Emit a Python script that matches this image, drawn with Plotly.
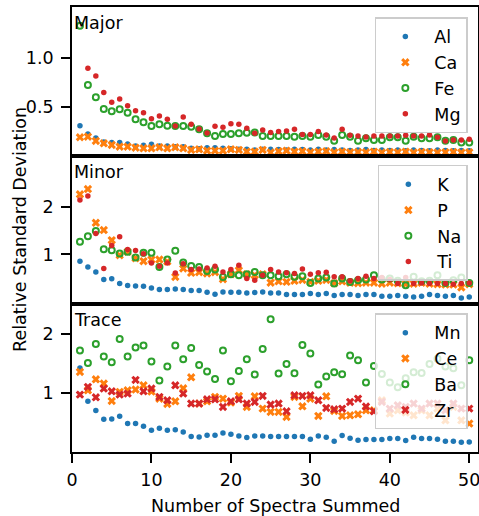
import plotly.graph_objects as go

n_spectra = list(range(1, 51))

# ---------------- Major ----------------
major_names = ["Al", "Ca", "Fe", "Mg"]
al = [0.304,0.219,0.178,0.137,0.130,0.130,0.116,0.096,0.102,0.113,0.096,0.096,0.088,0.088,0.071,0.068,0.078,0.078,0.071,0.068,
      0.061,0.061,0.054,0.061,0.061,0.058,0.054,0.061,0.058,0.054,0.061,0.054,0.058,0.054,0.050,0.054,0.058,0.050,0.054,0.050,
      0.054,0.047,0.054,0.050,0.047,0.054,0.050,0.047,0.050,0.047]
ca = [0.185,0.191,0.147,0.123,0.106,0.088,0.088,0.078,0.071,0.071,0.082,0.071,0.082,0.071,0.054,0.061,0.047,0.047,0.047,0.061,
      0.054,0.037,0.037,0.054,0.027,0.040,0.047,0.037,0.040,0.030,0.037,0.040,0.030,0.037,0.030,0.033,0.030,0.037,0.027,0.033,
      0.030,0.037,0.027,0.033,0.030,0.027,0.030,0.033,0.027,0.030]
fe = [1.330,0.722,0.596,0.476,0.452,0.472,0.438,0.370,0.339,0.301,0.318,0.304,0.301,0.301,0.294,0.267,0.226,0.198,0.219,0.219,
      0.226,0.230,0.233,0.198,0.198,0.198,0.198,0.191,0.198,0.191,0.209,0.191,0.150,0.209,0.191,0.150,0.174,0.157,0.157,0.184,
      0.184,0.150,0.191,0.174,0.174,0.184,0.150,0.157,0.130,0.130]
mg = [None,0.894,0.815,0.644,0.545,0.579,0.510,0.458,0.438,0.376,0.404,0.370,0.301,0.394,0.318,0.270,0.229,0.298,0.288,0.325,
      0.318,0.277,0.226,0.260,0.233,0.243,0.250,0.267,0.212,0.212,0.243,0.209,0.178,0.267,0.205,0.198,0.188,0.198,0.198,0.198,
      0.198,0.205,0.198,0.198,0.209,0.184,0.147,0.157,0.157,0.164]

# ---------------- Minor ----------------
minor_names = ["K", "P", "Na", "Ti"]
k = [0.857,0.736,0.630,0.468,0.482,0.383,0.340,0.333,0.326,0.290,0.255,0.255,0.269,0.255,0.234,0.234,0.198,0.156,0.205,0.198,
     0.198,0.184,0.191,0.205,0.183,0.183,0.148,0.148,0.148,0.169,0.148,0.169,0.127,0.148,0.148,0.127,0.148,0.148,0.113,0.113,
     0.127,0.113,0.099,0.113,0.148,0.127,0.113,0.127,0.077,0.099]
p = [2.276,2.389,1.672,1.517,1.304,0.985,1.055,0.920,0.857,0.893,0.893,0.850,0.523,0.702,0.610,0.624,0.596,0.624,0.475,0.580,
     0.665,0.580,0.560,0.580,0.400,0.430,0.418,0.440,0.460,0.418,0.440,0.460,0.390,0.430,0.400,0.390,0.400,0.400,0.380,0.400,
     0.390,0.370,0.380,0.400,0.380,0.370,0.360,0.360,0.300,0.370]
na = [1.268,1.389,1.496,1.113,1.090,1.020,1.055,0.936,1.035,1.035,0.736,0.893,1.077,0.830,0.757,0.736,0.651,0.680,0.523,0.580,
      0.559,0.580,0.630,0.559,0.560,0.539,0.582,0.525,0.539,0.396,0.489,0.510,0.383,0.489,0.418,0.454,0.468,0.560,0.468,0.489,
      0.440,0.347,0.525,0.432,0.440,0.560,0.396,0.454,0.510,0.396]
ti = [2.155,2.240,1.447,0.702,1.190,1.375,1.107,1.085,1.015,0.820,0.751,0.820,0.609,0.805,0.680,0.694,0.715,0.751,0.630,0.680,
      0.772,0.488,0.453,0.559,0.680,0.630,0.610,0.596,0.694,0.582,0.610,0.624,0.525,0.525,0.440,0.489,0.539,0.489,0.510,0.468,
      0.383,0.510,0.383,0.396,0.383,0.383,0.383,0.369,0.383,0.396]

# ---------------- Trace ----------------
trace_names = ["Mn", "Ce", "Ba", "Zr"]
mn = [1.424,0.859,0.701,0.555,0.560,0.605,0.481,0.481,0.435,0.368,0.402,0.368,0.375,0.339,0.261,0.255,0.283,0.283,0.322,0.300,
      0.272,0.244,0.272,0.272,0.261,0.261,0.261,0.261,0.261,0.215,0.272,0.250,0.181,0.278,0.232,0.198,0.210,0.210,0.210,0.227,
      0.227,0.193,0.250,0.227,0.227,0.215,0.181,0.181,0.164,0.170]
ce = [1.356,1.046,1.232,1.159,0.864,1.017,1.046,1.057,1.130,1.023,0.904,0.814,0.859,1.080,1.266,0.820,0.859,0.932,0.904,0.837,
      0.949,0.763,0.943,0.735,0.678,0.678,0.594,0.932,0.774,0.904,0.610,0.943,0.695,0.610,0.622,0.639,0.706,0.706,0.876,0.650,
      0.706,0.667,0.622,0.706,0.622,0.735,0.537,0.763,0.537,0.481]
ba = [1.718,1.509,1.830,1.616,1.520,1.915,1.616,1.770,1.803,1.532,1.210,1.447,1.803,1.571,1.760,1.475,1.362,1.237,1.720,1.198,
      1.373,1.571,1.311,1.746,2.249,1.328,1.492,1.334,1.814,1.667,1.142,1.277,1.351,1.317,1.633,1.554,1.176,1.458,1.322,1.176,
      1.097,1.250,1.350,1.340,1.490,1.580,1.450,1.420,1.130,1.554]
zr = [0.972,1.102,0.927,1.074,1.028,0.972,0.989,1.220,1.028,1.074,0.932,0.876,1.130,0.989,0.820,0.820,0.893,0.893,0.763,0.859,
      0.893,0.820,0.848,0.949,0.803,0.820,0.689,0.961,0.949,0.961,0.876,0.746,0.724,0.735,0.848,0.904,0.769,0.689,0.848,0.735,
      0.791,0.763,0.820,0.735,0.820,0.820,0.706,0.820,0.735,0.735]

panel_labels = ["Major", "Minor", "Trace"]
x_tickvals = [0, 10, 20, 30, 40, 50]
y_tickvals = [[0.5, 1.0], [1, 2], [1, 2]]
y_ticktext = [["0.5", "1.0"], ["1", "2"], ["1", "2"]]
y_ranges = [[-0.004, 1.524], [-0.057, 3.098], [0.0, 2.503]]

BLUE, ORANGE, GREEN, RED = "#1f77b4", "#ff7f0e", "#2ca02c", "#d62728"
FONT = "DejaVu Sans"
FS = 17.5

def style(kind, color):
    if kind == "dot":
        return dict(symbol="circle", size=5.5, color=color, line=dict(width=0))
    if kind == "x":
        return dict(symbol="x", size=7.5, color=color, line=dict(width=0))
    return dict(symbol="circle-open", size=6, color=color, line=dict(width=2, color=color))

panels = [
    (major_names, [al, ca, fe, mg], ["dot", "x", "ring", "dot"]),
    (minor_names, [k, p, na, ti], ["dot", "x", "ring", "dot"]),
    (trace_names, [mn, ce, ba, zr], ["dot", "x", "ring", "x"]),
]
colors = [BLUE, ORANGE, GREEN, RED]

fig = go.Figure()
for i, (names, series, kinds) in enumerate(panels):
    ax = "" if i == 0 else str(i + 1)
    leg = "legend" if i == 0 else f"legend{i + 1}"
    for name, ys, kind, col in zip(names, series, kinds, colors):
        fig.add_trace(go.Scatter(
            x=n_spectra, y=ys, mode="markers", name=name,
            marker=style(kind, col), xaxis="x" + ax, yaxis="y" + ax,
            legend=leg, showlegend=True, cliponaxis=True,
        ))

domains = [[0.666, 1.0], [0.332, 0.666], [0.0, 0.332]]
legend_tops = [0.977, 0.645, 0.3117]

axis_common = dict(showline=True, mirror=True, linecolor="black", linewidth=1.6,
                   showgrid=False, zeroline=False, automargin=False)
layout = dict(
    template="none",
    width=479, height=516,
    margin=dict(l=72, r=1, t=7, b=64, autoexpand=False),
    paper_bgcolor="white", plot_bgcolor="white",
    font=dict(family=FONT, size=FS, color="black"),
    showlegend=True,
)
for i in range(3):
    ax = "" if i == 0 else str(i + 1)
    is_bottom = (i == 2)
    xa = dict(axis_common, domain=[0, 1], range=[0, 51.1], anchor="y" + ax,
              tickvals=x_tickvals, showticklabels=is_bottom,
              ticks="outside" if is_bottom else "", ticklen=9, tickwidth=1.6, tickcolor="black",
              ticklabelstandoff=2, ticklabeloverflow="allow",
              tickfont=dict(size=FS, family=FONT, color="black"))
    if i != 2:
        xa["matches"] = "x3"
    ya = dict(axis_common, domain=domains[i], range=y_ranges[i], anchor="x" + ax,
              tickvals=y_tickvals[i], ticktext=y_ticktext[i], ticks="outside",
              ticklen=9, tickwidth=1.6, tickcolor="black", ticklabelstandoff=4,
              tickfont=dict(size=FS, family=FONT, color="black"))
    layout["xaxis" + ax] = xa
    layout["yaxis" + ax] = ya
    leg = "legend" if i == 0 else f"legend{i + 1}"
    layout[leg] = dict(x=0.975, xanchor="right", y=legend_tops[i], yanchor="top",
                       bgcolor="rgba(255,255,255,0.8)", bordercolor="#cccccc", borderwidth=1.5,
                       font=dict(size=FS, family=FONT, color="black"), itemwidth=48,
                       tracegroupgap=0)

annotations = []
for i, lab in enumerate(panel_labels):
    annotations.append(dict(text=lab, x=0, xref="paper", y=domains[i][1], yref="paper",
                            xanchor="left", yanchor="top", showarrow=False, yshift=-4,
                            font=dict(size=FS, family=FONT, color="black")))
annotations.append(dict(text="Relative Standard Deviation", x=-0.128, xref="paper",
                        y=0.499, yref="paper", textangle=-90, showarrow=False,
                        xanchor="center", yanchor="middle",
                        font=dict(size=FS, family=FONT, color="black")))
annotations.append(dict(text="Number of Spectra Summed", x=0.5, xref="paper",
                        y=-0.1213, yref="paper", showarrow=False,
                        xanchor="center", yanchor="middle",
                        font=dict(size=FS, family=FONT, color="black")))
layout["annotations"] = annotations

fig.update_layout(**layout)
fig.write_html("out.html",
               config={"displayModeBar": False},
               post_script="document.body.style.margin='0';document.body.style.overflow='hidden';")
